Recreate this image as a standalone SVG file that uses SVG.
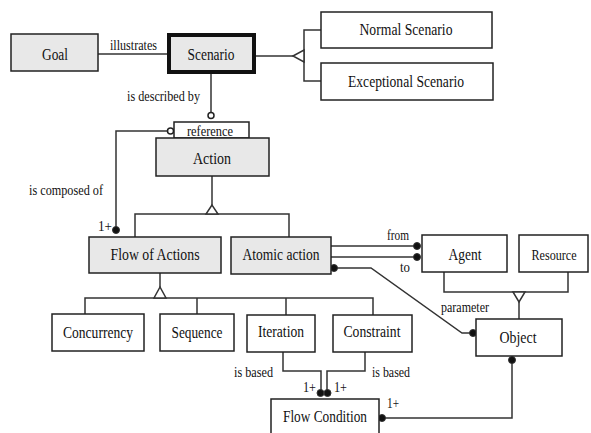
<svg xmlns="http://www.w3.org/2000/svg" width="591" height="433" viewBox="0 0 591 433">
<defs>
<style>
.box{fill:#ffffff;stroke:#222;stroke-width:1.5}
.gray{fill:#e8e8e8;stroke:#222;stroke-width:1.5}
.t{font-family:"Liberation Serif","DejaVu Serif",serif;font-size:17px;fill:#111;text-anchor:middle}
.l{font-family:"Liberation Serif","DejaVu Serif",serif;font-size:14px;fill:#111}
.ln{fill:none;stroke:#333;stroke-width:1.5}
.tri{fill:#fff;stroke:#333;stroke-width:1.5}
.dot{fill:#111;stroke:#333;stroke-width:1}
.odot{fill:#fff;stroke:#222;stroke-width:1.5}
</style>
</defs>
<rect width="591" height="433" fill="#fff"/>

<g id="connectors">
  <line class="ln" x1="98" y1="54" x2="167" y2="54"/>
  <text class="l" x="110" y="50" textLength="47" lengthAdjust="spacingAndGlyphs">illustrates</text>
  <line class="ln" x1="256" y1="56" x2="293" y2="56"/>
  <polyline class="ln" points="321,30 304,30 304,81 321,81"/>
  <polygon class="tri" points="293,56 304,50 304,62"/>
  <line class="ln" x1="211" y1="74" x2="211" y2="112"/>
  <circle class="odot" cx="211" cy="115.5" r="3"/>
  <text class="l" x="127" y="101" textLength="73" lengthAdjust="spacingAndGlyphs">is described by</text>
  <polyline class="ln" points="167,131 116,131 116,228"/>
  <circle class="odot" cx="170.5" cy="131" r="3"/>
  <circle class="dot" cx="116" cy="230" r="3.5"/>
  <text class="l" x="29" y="195" textLength="74" lengthAdjust="spacingAndGlyphs">is composed of</text>
  <text class="l" x="98" y="231" textLength="14" lengthAdjust="spacingAndGlyphs">1+</text>
  <line class="ln" x1="212" y1="176" x2="212" y2="205"/>
  <polyline class="ln" points="135,237 135,214 289,214 289,237"/>
  <polygon class="tri" points="212,205 206,214 218,214"/>
  <line class="ln" x1="331" y1="246" x2="415" y2="246"/>
  <line class="ln" x1="331" y1="257" x2="415" y2="257"/>
  <circle class="dot" cx="417" cy="246" r="3.5"/>
  <circle class="dot" cx="417" cy="257" r="3.5"/>
  <text class="l" x="387" y="240" textLength="22" lengthAdjust="spacingAndGlyphs">from</text>
  <text class="l" x="400" y="272" textLength="10" lengthAdjust="spacingAndGlyphs">to</text>
  <polyline class="ln" points="334,268 371,268 462,333 473,333"/>
  <circle class="dot" cx="334" cy="268" r="3.5"/>
  <circle class="dot" cx="473" cy="333" r="3.5"/>
  <text class="l" x="441" y="312" textLength="48" lengthAdjust="spacingAndGlyphs">parameter</text>
  <polyline class="ln" points="444,272 444,292 568,292 568,272"/>
  <line class="ln" x1="519" y1="302" x2="519" y2="319"/>
  <polygon class="tri" points="513,292 525,292 519,302"/>
  <polyline class="ln" points="512,360 512,418 384,418"/>
  <circle class="dot" cx="512" cy="360" r="3.5"/>
  <circle class="dot" cx="382" cy="418" r="3.5"/>
  <text class="l" x="387" y="408" textLength="12" lengthAdjust="spacingAndGlyphs">1+</text>
  <line class="ln" x1="160" y1="273" x2="160" y2="287"/>
  <polyline class="ln" points="85,314 85,298 373,298 373,315"/>
  <line class="ln" x1="197" y1="298" x2="197" y2="314"/>
  <line class="ln" x1="286" y1="298" x2="286" y2="315"/>
  <polygon class="tri" points="160,287 154,298 166,298"/>
  <polyline class="ln" points="283,352 283,371 321,371 321,390"/>
  <polyline class="ln" points="365,352 365,371 327,371 327,390"/>
  <circle class="dot" cx="320.5" cy="393" r="3.5"/>
  <circle class="dot" cx="327.5" cy="393" r="3.5"/>
  <text class="l" x="234" y="377" textLength="39" lengthAdjust="spacingAndGlyphs">is based</text>
  <text class="l" x="372" y="377" textLength="38" lengthAdjust="spacingAndGlyphs">is based</text>
  <text class="l" x="303" y="392" textLength="13" lengthAdjust="spacingAndGlyphs">1+</text>
  <text class="l" x="334" y="392" textLength="13" lengthAdjust="spacingAndGlyphs">1+</text>
</g>

<g id="goal">
  <rect class="gray" x="11" y="34" width="87" height="37"/>
  <text class="t" x="55" y="60" textLength="26" lengthAdjust="spacingAndGlyphs">Goal</text>
</g>
<g id="scenario">
  <rect x="169" y="35" width="85" height="37" fill="#e8e8e8" stroke="#111" stroke-width="4"/>
  <text class="t" x="211" y="60" textLength="47" lengthAdjust="spacingAndGlyphs">Scenario</text>
</g>
<g id="normal-scenario">
  <rect class="box" x="321" y="12" width="171" height="36"/>
  <text class="t" x="406" y="35" textLength="93" lengthAdjust="spacingAndGlyphs">Normal Scenario</text>
</g>
<g id="exceptional-scenario">
  <rect class="box" x="321" y="63" width="172" height="37"/>
  <text class="t" x="406" y="87" textLength="116" lengthAdjust="spacingAndGlyphs">Exceptional Scenario</text>
</g>
<g id="reference">
  <rect class="box" x="174" y="122" width="75" height="16"/>
  <text class="l" x="210" y="135.5" text-anchor="middle" textLength="46" lengthAdjust="spacingAndGlyphs">reference</text>
</g>
<g id="action">
  <rect class="gray" x="156" y="138" width="113" height="38"/>
  <text class="t" x="212" y="164" textLength="38" lengthAdjust="spacingAndGlyphs">Action</text>
</g>
<g id="flow-of-actions">
  <rect class="gray" x="89" y="237" width="132" height="36"/>
  <text class="t" x="155" y="260" textLength="89" lengthAdjust="spacingAndGlyphs">Flow of Actions</text>
</g>
<g id="atomic-action">
  <rect class="gray" x="231" y="237" width="100" height="37"/>
  <text class="t" x="281" y="260" textLength="77" lengthAdjust="spacingAndGlyphs">Atomic action</text>
</g>
<g id="agent">
  <rect class="box" x="422" y="235" width="85" height="37"/>
  <text class="t" x="465" y="260" textLength="33" lengthAdjust="spacingAndGlyphs">Agent</text>
</g>
<g id="resource">
  <rect class="box" x="519" y="235" width="69" height="37"/>
  <text class="t" x="554" y="260" style="font-size:15px" textLength="45" lengthAdjust="spacingAndGlyphs">Resource</text>
</g>
<g id="object">
  <rect class="box" x="476" y="319" width="86" height="37"/>
  <text class="t" x="518" y="343" textLength="37" lengthAdjust="spacingAndGlyphs">Object</text>
</g>
<g id="concurrency">
  <rect class="box" x="52" y="314" width="92" height="37"/>
  <text class="t" x="98" y="338" textLength="70" lengthAdjust="spacingAndGlyphs">Concurrency</text>
</g>
<g id="sequence">
  <rect class="box" x="160" y="314" width="74" height="37"/>
  <text class="t" x="197" y="338" textLength="51" lengthAdjust="spacingAndGlyphs">Sequence</text>
</g>
<g id="iteration">
  <rect class="box" x="247" y="315" width="68" height="37"/>
  <text class="t" x="281" y="337" textLength="46" lengthAdjust="spacingAndGlyphs">Iteration</text>
</g>
<g id="constraint">
  <rect class="box" x="333" y="315" width="79" height="37"/>
  <text class="t" x="372" y="337" textLength="57" lengthAdjust="spacingAndGlyphs">Constraint</text>
</g>
<g id="flow-condition">
  <rect class="box" x="271" y="399" width="108" height="40"/>
  <text class="t" x="325" y="422" textLength="84" lengthAdjust="spacingAndGlyphs">Flow Condition</text>
</g>
</svg>
